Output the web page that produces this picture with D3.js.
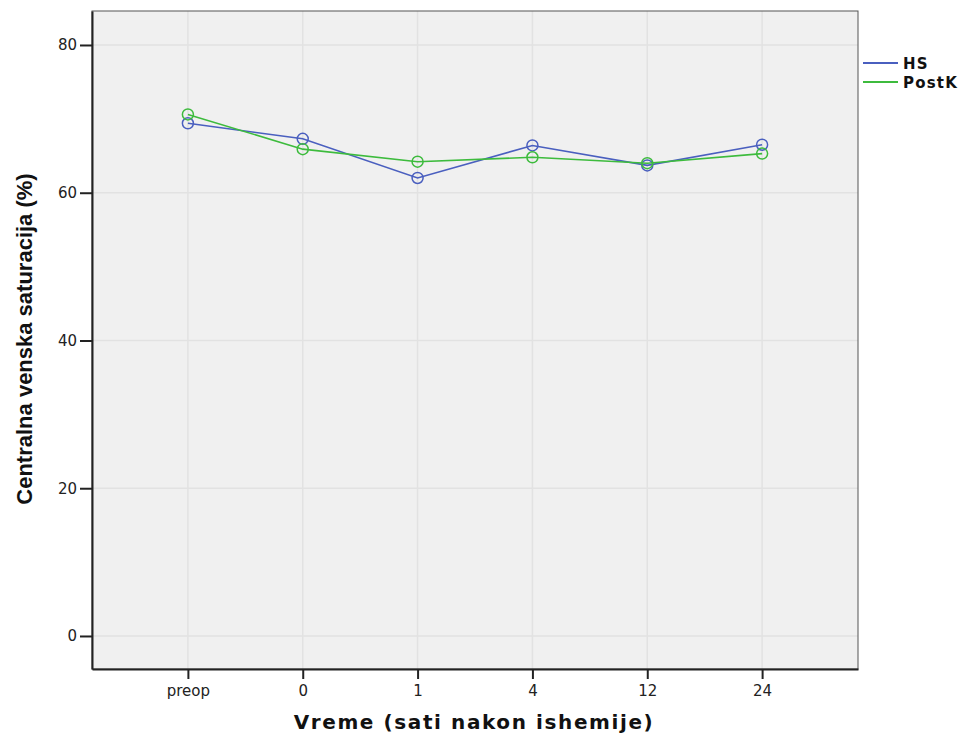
<!DOCTYPE html>
<html><head><meta charset="utf-8">
<script src="https://cdn.jsdelivr.net/npm/d3@7"></script>
<style>body{margin:0;background:#fff}</style>
</head><body>
<svg id="c" width="966" height="738"></svg>
<script>
const categories = ["preop","0","1","4","12","24"];
const hsValues = [69.4, 67.3, 62.0, 66.4, 63.7, 66.5];
const postkValues = [70.6, 65.9, 64.2, 64.8, 64.0, 65.3];
const yTicks = [0,20,40,60,80];
const seriesNames = ["HS","PostK"];
const seriesColors = ["#4a5fbf","#3dbb3d"];

const svg = d3.select("#c");
const L=92, T=11, R=858, B=669;
const x = d3.scalePoint().domain(categories).range([L,R]).padding(0.835);
const y = d3.scaleLinear().domain([-4.47,84.6]).range([B,T]);

svg.append("rect").attr("x",L).attr("y",T).attr("width",R-L).attr("height",B-T).attr("fill","#f0f0f0");
// grid
svg.append("g").selectAll("line").data(yTicks).join("line")
  .attr("x1",L).attr("x2",R).attr("y1",d=>y(d)).attr("y2",d=>y(d)).attr("stroke","#e2e2e2").attr("stroke-width",1.5);
svg.append("g").selectAll("line").data(categories).join("line")
  .attr("y1",T).attr("y2",B).attr("x1",d=>x(d)).attr("x2",d=>x(d)).attr("stroke","#e2e2e2").attr("stroke-width",1.5);
// frame
svg.append("rect").attr("x",L).attr("y",T).attr("width",R-L).attr("height",B-T).attr("fill","none").attr("stroke","#555").attr("stroke-width",1);
// axes
const ya = svg.append("g").attr("transform",`translate(${L},0)`).call(d3.axisLeft(y).tickValues(yTicks).tickSize(12).tickSizeOuter(0).tickPadding(3));
ya.select(".domain").attr("stroke","#222").attr("stroke-width",2);
ya.selectAll(".tick line").attr("stroke","#222").attr("stroke-width",2);
ya.selectAll("text").attr("font-family","DejaVu Sans").attr("font-size",15).attr("fill","#222");
const xa = svg.append("g").attr("transform",`translate(0,${B})`).call(d3.axisBottom(x).tickSize(10).tickSizeOuter(0).tickPadding(6));
xa.select(".domain").attr("stroke","#222").attr("stroke-width",2);
xa.selectAll(".tick line").attr("stroke","#222").attr("stroke-width",2);
xa.selectAll("text").attr("font-family","DejaVu Sans").attr("font-size",15).attr("fill","#222");

// series
const series = [hsValues, postkValues];
series.forEach((vals,i)=>{
  const pts = categories.map((c,j)=>[x(c), y(vals[j])]);
  svg.append("path").attr("d",d3.line()(pts)).attr("fill","none").attr("stroke",seriesColors[i]).attr("stroke-width",1.6);
  svg.append("g").selectAll("circle").data(pts).join("circle")
    .attr("cx",d=>d[0]).attr("cy",d=>d[1]).attr("r",5.5).attr("fill","none").attr("stroke",seriesColors[i]).attr("stroke-width",1.5);
});

// legend
seriesNames.forEach((n,i)=>{
  const yy = 63 + i*19;
  svg.append("line").attr("x1",863).attr("x2",898).attr("y1",yy).attr("y2",yy).attr("stroke",seriesColors[i]).attr("stroke-width",2);
  svg.append("text").attr("x",903).attr("y",yy+5.5).text(n).attr("font-family","DejaVu Sans").attr("font-weight","bold").attr("font-size",15).attr("letter-spacing",1.2).attr("fill","#111");
});

// titles
svg.append("text").attr("x",474).attr("y",729).attr("text-anchor","middle").text("Vreme (sati nakon ishemije)")
  .attr("font-family","DejaVu Sans").attr("font-weight","bold").attr("font-size",20).attr("letter-spacing",1.6).attr("fill","#111");
svg.append("text").attr("transform","translate(32,339) rotate(-90)").attr("text-anchor","middle").text("Centralna venska saturacija (%)")
  .attr("font-family","Liberation Sans").attr("font-weight","bold").attr("font-size",22).attr("fill","#111");
</script>
</body></html>
